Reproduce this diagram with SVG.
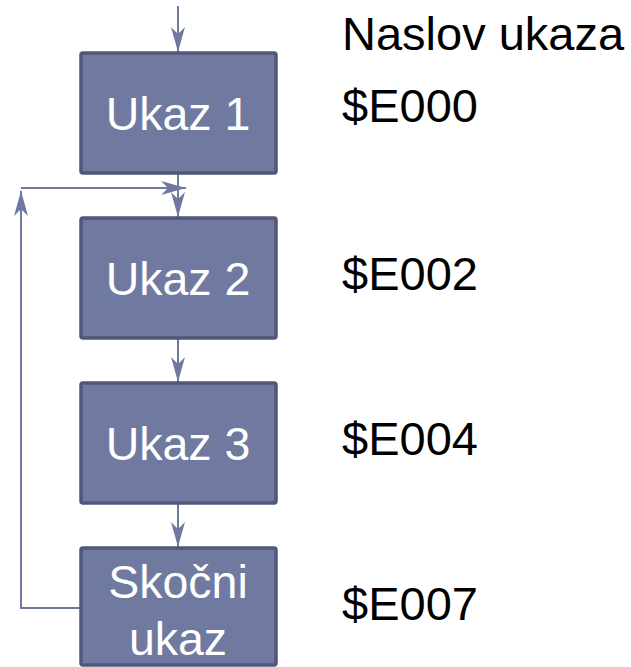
<svg xmlns="http://www.w3.org/2000/svg" width="631" height="667" viewBox="0 0 631 667">
<style>
.box{fill:#707aa0;stroke:#50577a;stroke-width:3.5}
.bt{font-family:"Liberation Sans",Arial,sans-serif;font-size:46.5px;fill:#ffffff;text-anchor:middle}
.lt{font-family:"Liberation Sans",Arial,sans-serif;font-size:47px;fill:#000000}
.con{fill:none;stroke:#6f79a0;stroke-width:2}
</style>
<defs>
<marker id="ah" markerUnits="userSpaceOnUse" markerWidth="26" markerHeight="16" refX="25" refY="7" orient="auto">
<path d="M0,0 L25,7 L0,14 L7,7 z" fill="#6f79a0"/>
</marker>
</defs>
<g id="connectors">
<path class="con" d="M178,6 V52" marker-end="url(#ah)"/>
<path class="con" d="M178,174 V217" marker-end="url(#ah)"/>
<path class="con" d="M178,339 V382" marker-end="url(#ah)"/>
<path class="con" d="M178,504 V547" marker-end="url(#ah)"/>
<path class="con" d="M80,608 H21 V191" marker-end="url(#ah)"/>
<path class="con" d="M21,188 H186" marker-end="url(#ah)"/>
</g>
<g id="ukaz1">
<rect class="box" x="81" y="53" width="195" height="120" rx="2"/>
<text class="bt" x="178" y="130">Ukaz 1</text>
</g>
<g id="ukaz2">
<rect class="box" x="81" y="218" width="195" height="120" rx="2"/>
<text class="bt" x="178" y="295">Ukaz 2</text>
</g>
<g id="ukaz3">
<rect class="box" x="81" y="383" width="195" height="120" rx="2"/>
<text class="bt" x="178" y="460">Ukaz 3</text>
</g>
<g id="skocni">
<rect class="box" x="81" y="548" width="195" height="117" rx="2"/>
<text class="bt" x="178" y="598">Skočni</text>
<text class="bt" x="178" y="655">ukaz</text>
</g>
<g id="labels">
<text class="lt" x="342" y="50">Naslov ukaza</text>
<text class="lt" x="342" y="122">$E000</text>
<text class="lt" x="342" y="290">$E002</text>
<text class="lt" x="342" y="455">$E004</text>
<text class="lt" x="342" y="620">$E007</text>
</g>
</svg>
